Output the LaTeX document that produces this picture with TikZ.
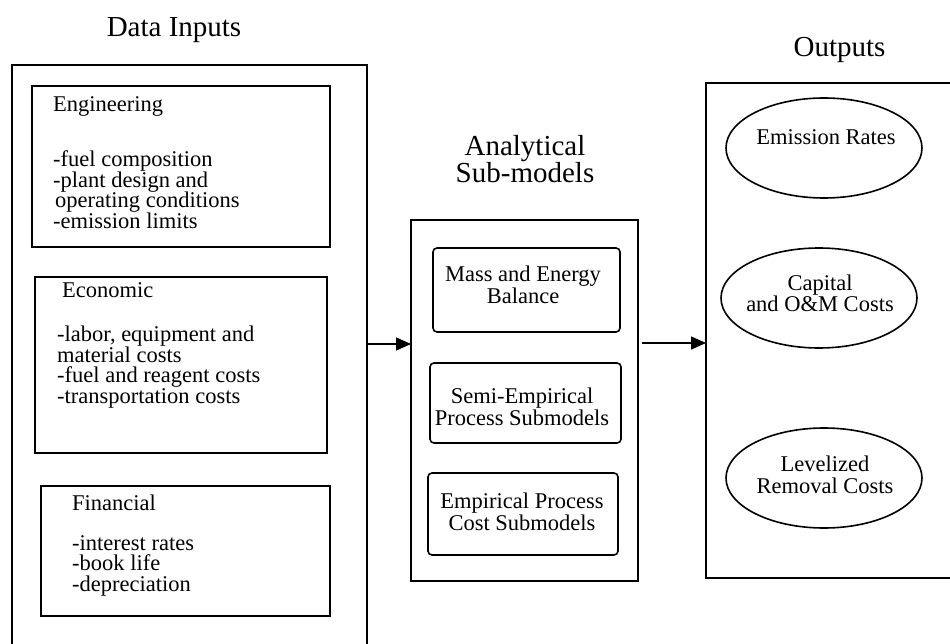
\documentclass[tikz,border=0pt]{standalone}
\usepackage{fontspec}
\setmainfont{Liberation Serif}
\usetikzlibrary{shapes.geometric,arrows.meta}
\begin{document}
\begin{tikzpicture}[x=1pt,y=-1pt,
  frame/.style={draw, line width=1.6pt, inner sep=0pt, outer sep=0pt, rectangle},
  subbox/.style={draw, line width=1.6pt, inner sep=0pt, outer sep=0pt, rectangle, rounded corners=4pt},
  oval/.style={draw, line width=1.6pt, ellipse, inner sep=0pt, outer sep=0pt, minimum width=196pt, minimum height=100pt},
  body/.style={font=\fontsize{22.5}{20.5}\selectfont, inner sep=0pt, align=left, anchor=base west},
  ctext/.style={font=\fontsize{22.5}{21.5}\selectfont, inner sep=0pt, align=center, anchor=base},
  title/.style={font=\fontsize{29}{26}\selectfont, inner sep=0pt, align=center, anchor=base},
  arr/.style={line width=1.6pt, -{Triangle[length=15pt,width=13pt]}}
]
\useasboundingbox (0,0) rectangle (950,644);
\fill[white] (0,0) rectangle (950,644);

% titles
\node[title] (tin) at (174,37) {Data Inputs};
\node[title] (tan) at (525,183) {Analytical\\Sub-models};
\node[title] (tout) at (839.5,57) {Outputs};

% left column
\node[frame, minimum width=355pt, minimum height=600pt] (inbox) at (189.5,365) {};
\node[frame, minimum width=298pt, minimum height=161pt] (eng) at (181,166.5) {};
\node[frame, minimum width=292pt, minimum height=176pt] (eco) at (181,365) {};
\node[frame, minimum width=289pt, minimum height=130pt] (fin) at (185.5,551) {};

\node[body] (engh) at (53,112) {Engineering};
\node[body] (engt) at (53,228.5) {-fuel composition\\-plant design and\\\hspace*{2pt}operating conditions\\-emission limits};
\node[body] (ecoh) at (62,298) {Economic};
\node[body] (ecot) at (57,403) {-labor, equipment and\\material costs\\-fuel and reagent costs\\-transportation costs};
\node[body] (finh) at (72,510) {Financial};
\node[body] (fint) at (72,591) {-interest rates\\-book life\\-depreciation};

% middle column
\node[frame, minimum width=227pt, minimum height=361pt] (mid) at (524.5,400.5) {};
\node[subbox, minimum width=187pt, minimum height=84pt] (mass) at (526.5,290) {};
\node[subbox, minimum width=191pt, minimum height=80pt] (semi) at (525.5,403) {};
\node[subbox, minimum width=190pt, minimum height=82pt] (emp) at (523,514) {};
\node[ctext] (masst) at (523,303) {Mass and Energy\\Balance};
\node[ctext] (semit) at (522,425) {Semi-Empirical\\Process Submodels};
\node[ctext] (empt) at (522,530) {Empirical Process\\Cost Submodels};

% right column
\node[frame, minimum width=268pt, minimum height=495pt] (outbox) at (840,330.5) {};
\node[oval] (emis) at (824,148) {};
\node[oval] (capi) at (819,298) {};
\node[oval] (leve) at (824,478) {};
\node[ctext] (emist) at (826,145) {Emission Rates};
\node[ctext] (capit) at (820,312) {Capital\\and O\&M Costs};
\node[ctext] (levet) at (825,493) {Levelized\\Removal Costs};

% connectors
\coordinate (a1) at (367,344);
\coordinate (a2) at (642,343);
\draw[arr] (a1) -- (a1 -| mid.west);
\draw[arr] (a2) -- (a2 -| outbox.west);
\end{tikzpicture}
\end{document}
